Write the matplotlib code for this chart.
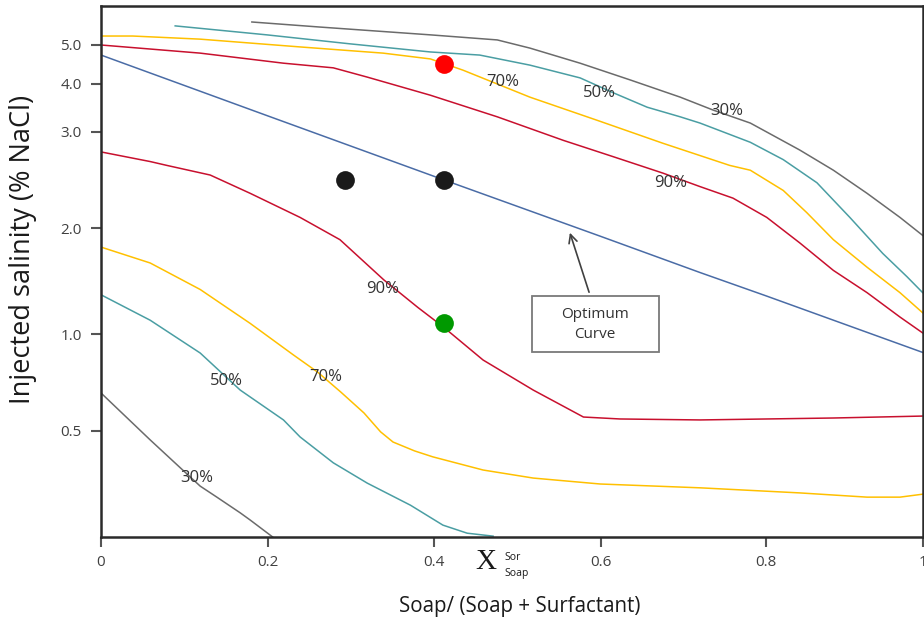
import numpy as np
import matplotlib
matplotlib.use("Agg")
import matplotlib.pyplot as plt
from matplotlib.patches import Rectangle

plt.rcParams['font.family'] = ['Open Sans', 'DejaVu Sans']

# axis break points: the printed axis is not evenly spaced, so the scale
# is piecewise linear between these tick values
x_nodes = [0.0, 0.2, 0.4, 0.6, 0.8, 1.0]
x_place = [0.0, 166.7, 332.7, 500.0, 665.0, 821.7]
y_nodes = [0.25, 0.5, 1.0, 2.0, 3.0, 4.0, 5.0, 6.0]
y_place = [0.0, 106.0, 203.0, 309.0, 405.3, 453.3, 492.0, 531.0]

x_ticks = [0, 0.2, 0.4, 0.6, 0.8, 1]
x_ticklabels = ['0', '0.2', '0.4', '0.6', '0.8', '1']
y_ticks = [0.5, 1.0, 2.0, 3.0, 4.0, 5.0]
y_ticklabels = ['0.5', '1.0', '2.0', '3.0', '4.0', '5.0']

# recovery contours, upper branch
gray_up_x = [0.181, 0.263, 0.396, 0.476, 0.515, 0.575, 0.635, 0.696, 0.736, 0.781, 0.843, 0.886, 0.929, 0.971, 1.0]
gray_up_y = [5.59, 5.46, 5.26, 5.13, 4.92, 4.53, 4.10, 3.72, 3.45, 3.18, 2.81, 2.60, 2.36, 2.11, 1.93]

teal_up_x = [0.089, 0.199, 0.299, 0.396, 0.455, 0.515, 0.575, 0.615, 0.656, 0.696, 0.72, 0.781, 0.822, 0.865, 0.907, 0.949, 0.98, 1.0]
teal_up_y = [5.49, 5.26, 5.03, 4.82, 4.74, 4.48, 4.15, 3.81, 3.51, 3.31, 3.18, 2.89, 2.71, 2.47, 2.11, 1.76, 1.54, 1.39]

yel_up_x = [0.0, 0.038, 0.119, 0.239, 0.339, 0.396, 0.411, 0.435, 0.515, 0.595, 0.675, 0.756, 0.781, 0.822, 0.852, 0.886, 0.929, 0.971, 1.0]
yel_up_y = [5.23, 5.23, 5.15, 4.95, 4.79, 4.64, 4.53, 4.35, 3.72, 3.24, 2.88, 2.65, 2.60, 2.39, 2.16, 1.89, 1.63, 1.39, 1.20]

red_up_x = [0.0, 0.119, 0.219, 0.279, 0.32, 0.396, 0.476, 0.555, 0.615, 0.675, 0.72, 0.76, 0.801, 0.843, 0.886, 0.929, 0.971, 1.0]
red_up_y = [5.0, 4.79, 4.53, 4.41, 4.17, 3.76, 3.31, 2.91, 2.74, 2.57, 2.43, 2.31, 2.11, 1.86, 1.60, 1.39, 1.16, 1.01]

# optimum salinity line
opt_x = [0.0, 0.2, 0.412, 0.6, 0.72, 0.8, 1.0]
opt_y = [4.74, 3.33, 2.5, 1.92, 1.58, 1.36, 0.905]

# lower branch
red_lo_x = [0.0, 0.059, 0.079, 0.131, 0.179, 0.239, 0.287, 0.34, 0.381, 0.411, 0.459, 0.519, 0.579, 0.623, 0.72, 0.801, 0.886, 1.0]
red_lo_y = [2.79, 2.69, 2.65, 2.55, 2.36, 2.11, 1.89, 1.51, 1.25, 1.07, 0.866, 0.711, 0.572, 0.562, 0.557, 0.562, 0.567, 0.577]

yel_lo_x = [0.0, 0.059, 0.119, 0.179, 0.231, 0.26, 0.288, 0.316, 0.336, 0.351, 0.377, 0.399, 0.459, 0.519, 0.599, 0.72, 0.843, 0.929, 0.971, 1.0]
yel_lo_y = [1.82, 1.67, 1.42, 1.10, 0.892, 0.804, 0.701, 0.593, 0.498, 0.474, 0.453, 0.439, 0.408, 0.389, 0.375, 0.366, 0.354, 0.344, 0.344, 0.351]

teal_lo_x = [0.0, 0.059, 0.119, 0.167, 0.219, 0.239, 0.279, 0.32, 0.372, 0.411, 0.44, 0.471]
teal_lo_y = [1.37, 1.13, 0.902, 0.711, 0.557, 0.486, 0.425, 0.377, 0.325, 0.278, 0.259, 0.252]

gray_lo_x = [0.0, 0.059, 0.098, 0.119, 0.139, 0.167, 0.179, 0.206]
gray_lo_y = [0.696, 0.479, 0.408, 0.37, 0.344, 0.307, 0.29, 0.25]

# experiment points
pt_x = [0.412, 0.293, 0.412, 0.412]
pt_y = [4.5, 2.5, 2.5, 1.1]
pt_col = ['#ff0000', '#1a1a1a', '#1a1a1a', '#009900']

# contour labels
lab_text = ['70%', '50%', '30%', '90%', '90%', '70%', '50%', '30%']
lab_x = [0.482, 0.598, 0.753, 0.685, 0.339, 0.27, 0.151, 0.115]
lab_y = [4.04, 3.81, 3.43, 2.47, 1.42, 0.78, 0.76, 0.39]


def piecewise(src, dst):
    src = np.asarray(src, float)
    dst = np.asarray(dst, float)

    def f(v):
        v = np.asarray(v, float)
        out = np.interp(v, src, dst)
        lo = v < src[0]
        hi = v > src[-1]
        out = np.where(lo, dst[0] + (v - src[0]) * (dst[1] - dst[0]) / (src[1] - src[0]), out)
        out = np.where(hi, dst[-1] + (v - src[-1]) * (dst[-1] - dst[-2]) / (src[-1] - src[-2]), out)
        return out
    return f


fig = plt.figure(figsize=(9.24, 6.2), dpi=100)
ax = fig.add_axes([101 / 924, 83 / 620, 821.7 / 924, 531 / 620])

ax.set_xscale('function', functions=(piecewise(x_nodes, x_place), piecewise(x_place, x_nodes)))
ax.set_yscale('function', functions=(piecewise(y_nodes, y_place), piecewise(y_place, y_nodes)))
ax.set_xlim(0, 1)
ax.set_ylim(0.25, 6.0)

lw = 1.1
c_gray, c_teal, c_yel, c_red, c_blue = '#6b6b6b', '#4a9ea3', '#ffc000', '#c8102e', '#4a6ca6'
ax.plot(gray_up_x, gray_up_y, color=c_gray, lw=lw)
ax.plot(teal_up_x, teal_up_y, color=c_teal, lw=lw)
ax.plot(yel_up_x, yel_up_y, color=c_yel, lw=lw)
ax.plot(red_up_x, red_up_y, color=c_red, lw=lw)
ax.plot(opt_x, opt_y, color=c_blue, lw=lw)
ax.plot(red_lo_x, red_lo_y, color=c_red, lw=lw)
ax.plot(yel_lo_x, yel_lo_y, color=c_yel, lw=lw)
ax.plot(teal_lo_x, teal_lo_y, color=c_teal, lw=lw)
ax.plot(gray_lo_x, gray_lo_y, color=c_gray, lw=lw)

for x, y, c in zip(pt_x, pt_y, pt_col):
    ax.plot(x, y, 'o', color=c, markersize=13.5, markeredgewidth=0, zorder=5)

for t, x, y in zip(lab_text, lab_x, lab_y):
    ax.text(x, y, t, ha='center', va='center', fontsize=12, color='#333333')

# optimum curve callout
ax.add_patch(Rectangle((0.5245, 0.348), 0.1545, 0.106, transform=ax.transAxes,
                       facecolor='white', edgecolor='#7a7a7a', lw=1.3, zorder=4))
ax.text(0.6015, 0.401, 'Optimum\nCurve', transform=ax.transAxes, ha='center', va='center',
        fontsize=11, color='#333333', linespacing=1.45, zorder=5)
ax.annotate('', xy=(0.5696, 0.578), xycoords='axes fraction',
            xytext=(0.595, 0.456), textcoords='axes fraction',
            arrowprops=dict(arrowstyle='->,head_length=0.6,head_width=0.3', color='#404040', lw=1.2))

ax.set_xticks(x_ticks)
ax.set_xticklabels(x_ticklabels)
ax.set_yticks(y_ticks)
ax.set_yticklabels(y_ticklabels)
ax.minorticks_off()
ax.tick_params(axis='both', direction='out', length=7, width=1.5, color='#555555',
               labelsize=11, labelcolor='#404040')
ax.tick_params(axis='x', pad=6)
ax.tick_params(axis='y', pad=7)

for side in ['left', 'bottom', 'top', 'right']:
    ax.spines[side].set_linewidth(1.8)
    ax.spines[side].set_color('#2a2a2a')

ax.set_ylabel('Injected salinity (% NaCl)', fontsize=19.5, color='#1a1a1a')
ax.yaxis.set_label_coords(-0.095, 0.542)
ax.yaxis.label.set_va('center')
ax.set_xlabel('Soap/ (Soap + Surfactant)', fontsize=14.8, color='#1a1a1a')
ax.xaxis.set_label_coords(0.509, -0.13)
ax.xaxis.label.set_va('center')

# X with stacked Sor / Soap indices under the axis
ax.text(0.468, -0.047, 'X', transform=ax.transAxes, ha='center', va='center',
        fontsize=21, family='Liberation Serif', color='#1a1a1a')
ax.text(0.4905, -0.038, 'Sor', transform=ax.transAxes, ha='left', va='center',
        fontsize=7.5, color='#1a1a1a')
ax.text(0.4905, -0.068, 'Soap', transform=ax.transAxes, ha='left', va='center',
        fontsize=7.5, color='#1a1a1a')

fig.savefig('out.png', dpi=100)
